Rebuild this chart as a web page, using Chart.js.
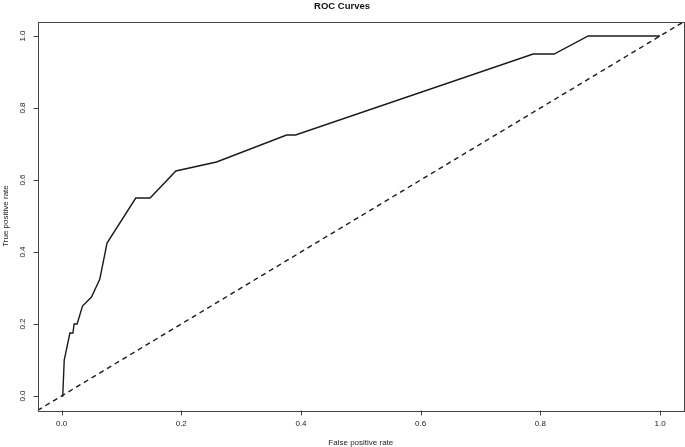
<!DOCTYPE html>
<html>
<head>
<meta charset="utf-8">
<script src="https://cdn.jsdelivr.net/npm/chart.js@4.4.1/dist/chart.umd.min.js"></script>
<style>
  html, body { margin: 0; padding: 0; background: #fff; }
  canvas { display: block; }
</style>
</head>
<body>
<canvas id="rocChart" width="685" height="447"></canvas>
<script>
// ROC curve
const fpr = [0, 0.002, 0.0045, 0.014, 0.019, 0.021, 0.026, 0.035, 0.050, 0.064, 0.076,
             0.124, 0.148, 0.191, 0.259, 0.376, 0.391, 0.788, 0.823, 0.880, 1.0];
const tpr = [0, 0, 0.1, 0.175, 0.175, 0.2, 0.2, 0.25, 0.275, 0.325, 0.425,
             0.55, 0.55, 0.625, 0.65, 0.725, 0.725, 0.95, 0.95, 1.0, 1.0];
// chance diagonal (abline 0,1) across the padded plot range
const diagX = [-0.04, 1.04];
const diagY = [-0.04, 1.04];
const xTicks = [0, 0.2, 0.4, 0.6, 0.8, 1.0];
const yTicks = [0, 0.2, 0.4, 0.6, 0.8, 1.0];

const FONT = "'Liberation Sans', Arial, sans-serif";
const TICK_LEN = 5;

// R style frame: box() round the plot region plus outward tick marks
const boxPlugin = {
  id: 'box',
  afterDraw(chart) {
    const { ctx, chartArea: a, scales } = chart;
    ctx.save();
    ctx.strokeStyle = '#444';
    ctx.lineWidth = 1;
    ctx.strokeRect(Math.round(a.left) + 0.5, Math.round(a.top) + 0.5,
                   Math.round(a.right - a.left), Math.round(a.bottom - a.top));
    ctx.beginPath();
    scales.x.ticks.forEach(t => {
      const px = Math.round(scales.x.getPixelForValue(t.value)) + 0.5;
      const y0 = Math.round(a.bottom) + 0.5;
      ctx.moveTo(px, y0);
      ctx.lineTo(px, y0 + TICK_LEN);
    });
    scales.y.ticks.forEach(t => {
      const py = Math.round(scales.y.getPixelForValue(t.value)) + 0.5;
      const x0 = Math.round(a.left) + 0.5;
      ctx.moveTo(x0, py);
      ctx.lineTo(x0 - TICK_LEN, py);
    });
    ctx.stroke();
    ctx.restore();
  }
};

window.addEventListener('DOMContentLoaded', () => {
  const ctx = document.getElementById('rocChart');
  new Chart(ctx, {
    type: 'scatter',
    data: {
      datasets: [{
        data: fpr.map((x, i) => ({ x: x, y: tpr[i] })),
        showLine: true,
        borderColor: '#1a1a1a',
        borderWidth: 1.4,
        pointRadius: 0,
        tension: 0
      }, {
        data: diagX.map((x, i) => ({ x: x, y: diagY[i] })),
        showLine: true,
        borderColor: '#1a1a1a',
        borderWidth: 1.4,
        borderDash: [5, 4],
        pointRadius: 0,
        tension: 0
      }]
    },
    options: {
      responsive: false,
      animation: false,
      devicePixelRatio: 1,
      layout: { padding: { left: 0, right: 1, top: 0, bottom: 0 } },
      plugins: {
        legend: { display: false },
        tooltip: { enabled: false },
        title: {
          display: true,
          text: 'ROC Curves',
          color: '#111',
          font: { family: FONT, size: 9.5, weight: 'bold', lineHeight: 1.2 },
          padding: { top: 0.3, bottom: 9.9 }
        }
      },
      scales: {
        x: {
          type: 'linear',
          min: -0.04,
          max: 1.04,
          afterBuildTicks: s => { s.ticks = xTicks.map(v => ({ value: v })); },
          afterFit: s => { s.height = 36.6; },
          grid: { display: false, drawTicks: false },
          border: { display: false },
          ticks: {
            color: '#222',
            padding: 8.1,
            maxRotation: 0,
            font: { family: FONT, size: 8, lineHeight: 1.2 },
            callback: v => Number(v).toFixed(1)
          },
          title: {
            display: true,
            text: 'False positive rate',
            color: '#222',
            font: { family: FONT, size: 8, lineHeight: 1 },
            padding: { top: 0, bottom: 0.3 }
          }
        },
        y: {
          type: 'linear',
          min: -0.04,
          max: 1.04,
          afterBuildTicks: s => { s.ticks = yTicks.map(v => ({ value: v })); },
          afterFit: s => { s.width = 37.6; },
          grid: { display: false, drawTicks: false },
          border: { display: false },
          ticks: {
            color: '#222',
            padding: 9.3,
            minRotation: 90,
            maxRotation: 90,
            crossAlign: 'center',
            font: { family: FONT, size: 8, lineHeight: 1.2 },
            callback: v => Number(v).toFixed(1)
          },
          title: {
            display: true,
            text: 'True positive rate',
            color: '#222',
            font: { family: FONT, size: 8, lineHeight: 1 },
            padding: { top: 1.5, bottom: 0 }
          }
        }
      }
    },
    plugins: [boxPlugin]
  });
});
</script>
</body>
</html>
